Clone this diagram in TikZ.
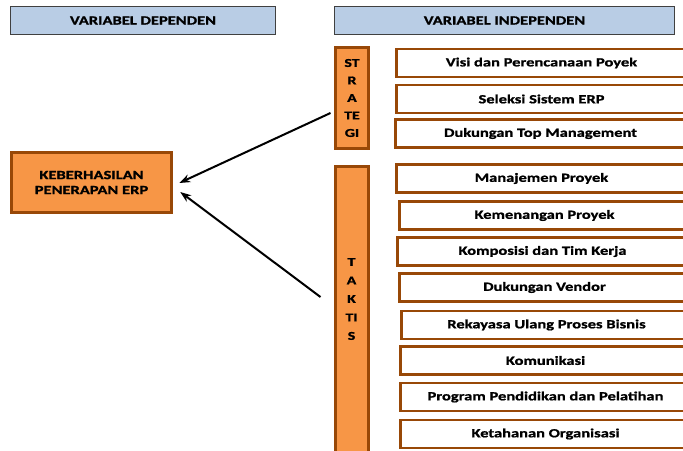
\documentclass[tikz,border=0pt]{standalone}
\usepackage{fontspec}
\setmainfont{Carlito}[FakeStretch=1.32, FakeBold=1.2]
\usetikzlibrary{arrows.meta}
\definecolor{biru}{HTML}{B9CDE5}
\definecolor{oranye}{HTML}{F79646}
\definecolor{coklat}{HTML}{984807}

\begin{document}
\begin{tikzpicture}[x=1pt, y=-1pt,
    every node/.style={font=\fontsize{12.5}{15}\selectfont\bfseries, inner sep=0pt, align=center},
    judul/.style={draw=black!75, fill=biru, line width=1pt, minimum height=28pt},
    tiang/.style={draw=coklat, fill=oranye, line width=3pt, minimum width=33pt},
    butir/.style={draw=coklat, fill=white, line width=2.5pt, minimum width=290pt, minimum height=28pt, anchor=west},
    panah/.style={-{Stealth[length=11pt,width=8pt]}, line width=2pt}]
    \useasboundingbox (0,0) rectangle (683,450);
    \clip (0,0) rectangle (683,450);

    % Judul kolom
    \node[judul, minimum width=265pt] (dep) at (143,20.5) {VARIABEL DEPENDEN};
    \node[judul, minimum width=340pt] (indep) at (504.5,20.5) {VARIABEL INDEPENDEN};

    % Variabel dependen
    \node[tiang, minimum width=160.5pt, minimum height=60.5pt] (erp) at (91.5,182.5)
        {KEBERHASILAN\\PENERAPAN ERP};

    % Strategi
    \node[tiang, minimum height=101pt, font=\fontsize{12}{17.5}\selectfont\bfseries] (strategi) at (352,98)
        {ST\\R\\A\\TE\\GI};
    \node[butir] (visi) at (395.25,63) {Visi dan Perencanaan Poyek};
    \node[butir] (seleksi) at (395.25,99) {Seleksi Sistem ERP};
    \node[butir] (topman) at (394.25,133.5) {Dukungan Top Management};

    % Taktis
    \node[tiang, minimum height=300pt, anchor=north] (taktis) at (351.5,164.5) {};
    \node[font=\fontsize{12}{18.5}\selectfont\bfseries] (taktisteks) at (351.5,299) {T\\A\\K\\TI\\S};
    \node[butir] (manpro) at (395.25,178.5) {Manajemen Proyek};
    \node[butir] (menang) at (398.25,215.5) {Kemenangan Proyek};
    \node[butir] (tim) at (396.25,251.5) {Komposisi dan Tim Kerja};
    \node[butir] (vendor) at (398.25,287.5) {Dukungan Vendor};
    \node[butir] (bpr) at (400.25,325) {Rekayasa Ulang Proses Bisnis};
    \node[butir] (komunikasi) at (399.25,360.5) {Komunikasi};
    \node[butir] (latih) at (399.25,397) {Program Pendidikan dan Pelatihan};
    \node[butir] (tahan) at (399.25,434) {Ketahanan Organisasi};

    % Panah pengaruh
    \coordinate (s) at ([xshift=-3.5pt, yshift=-15pt]strategi.west);
    \coordinate (t) at ([xshift=-13pt, yshift=-132.5pt]taktis.north west);
    \draw[panah] (s) -- ([xshift=6pt, yshift=-0.5pt]erp.east);
    \draw[panah] (t) -- ([xshift=7pt, yshift=-9.5pt]erp.east);
\end{tikzpicture}
\end{document}
